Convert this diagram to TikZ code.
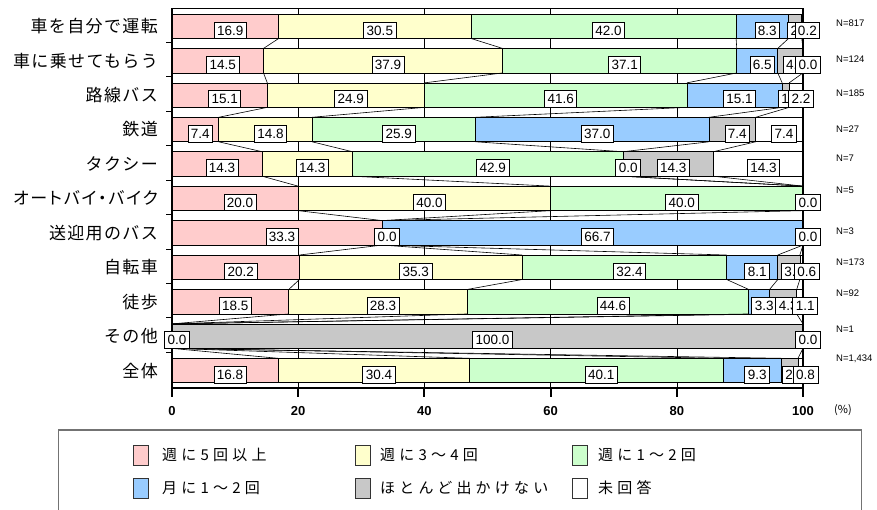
\documentclass[tikz,border=0pt]{standalone}
\usepackage{fontspec}
\setmainfont{Liberation Sans}
\newfontfamily\jp{Noto Sans CJK JP}
\newfontfamily\jpc[LetterSpace=8]{Noto Sans CJK JP}
\newfontfamily\jpp[LetterSpace=10,RawFeature=+palt]{Noto Sans CJK JP}
\newfontfamily\jpl[LetterSpace=28]{Noto Sans CJK JP}
\definecolor{col1}{HTML}{FFCCCC}
\definecolor{col2}{HTML}{FFFFCC}
\definecolor{col3}{HTML}{CCFFCC}
\definecolor{col4}{HTML}{99CCFF}
\definecolor{col5}{HTML}{C8C8C8}
\definecolor{col6}{HTML}{FFFFFF}
\def\zeroval{0}
\newcommand\allrows{%
 \onerow{0}{車を自分で運転}{N=817}{23}{16.9,30.5,42.0,8.3,2.1,0.2}%
 \onerow{1}{車に乗せてもらう}{N=124}{59}{14.5,37.9,37.1,6.5,4.0,0.0}%
 \onerow{2}{路線バス}{N=185}{93}{15.1,24.9,41.6,15.1,1.1,2.2}%
 \onerow{3}{鉄道}{N=27}{129}{7.4,14.8,25.9,37.0,7.4,7.4}%
 \onerow{4}{タクシー}{N=7}{158}{14.3,14.3,42.9,0.0,14.3,14.3}%
 \onerow{5}{{\jpp オートバイ・バイク}}{N=5}{190}{20.0,40.0,40.0,0,0,0.0}%
 \onerow{6}{送迎用のバス}{N=3}{231}{33.3,0.0,0,66.7,0,0.0}%
 \onerow{7}{自転車}{N=173}{262}{20.2,35.3,32.4,8.1,3.5,0.6}%
 \onerow{8}{徒歩}{N=92}{293}{18.5,28.3,44.6,3.3,4.3,1.1}%
 \onerow{9}{その他}{N=1}{329}{0.0,0,0,0,100.0,0.0}%
 \onerow{10}{全体}{N=1,434}{359}{16.8,30.4,40.1,9.3,2.6,0.8}%
}
% pass 1: bars, boundary coordinates, category and N labels
\newcommand\drawbars[5]{%
  \pgfmathsetmacro\rtop{8+34.43*#1+6}%
  \pgfmathsetmacro\rbot{8+34.43*#1+30.5}%
  \pgfmathsetmacro\rmid{8+34.43*#1+18.25}%
  \gdef\cum{0}%
  \foreach \v [count=\k] in {#5} {%
    \pgfmathsetmacro\segs{\cum}%
    \pgfmathsetmacro\sege{\cum+\v}%
    \xdef\cum{\sege}%
    \ifdim\v pt>0pt
      \draw[bar,fill=col\k] ({172+6.31*\segs},\rtop) rectangle ({172+6.31*\sege},\rbot);
    \fi
    \coordinate (t#1-\k) at ({172+6.31*\sege},\rtop);
    \coordinate (b#1-\k) at ({172+6.31*\sege},\rbot);
  }%
  \node[cat] (c#1) at (158,\rmid) {#2};
  \node[nlab] (n#1) at (836,#4) {#3};
}
% pass 2: data labels
\newcommand\drawlabels[5]{%
  \pgfmathsetmacro\rmid{8+34.43*#1+18.25}%
  \gdef\cum{0}%
  \foreach \v [count=\k] in {#5} {%
    \pgfmathsetmacro\segs{\cum}%
    \pgfmathsetmacro\sege{\cum+\v}%
    \xdef\cum{\sege}%
    \edef\tmpv{\v}%
    \ifx\tmpv\zeroval\else
      \node[lab] (L#1-\k) at ({172+6.31*(\segs+\sege)/2+5},{\rmid+4}) {\v};
    \fi
  }%
}
\begin{document}
\begin{tikzpicture}[x=1pt,y=-1pt,
  bar/.style={draw=black,line width=0.7pt},
  lab/.style={draw=black,fill=white,line width=0.7pt,font=\fontsize{13.5}{13.5}\selectfont,inner xsep=3pt,inner ysep=3.5pt,text height=9.7pt,text depth=0pt},
  cat/.style={anchor=east,inner sep=0pt,font=\jpc\fontsize{17}{17}\selectfont},
  nlab/.style={anchor=west,inner sep=0pt,font=\fontsize{9.5}{9.5}\selectfont},
  sline/.style={line width=0.6pt},
  gridl/.style={line width=0.6pt},
  ticklab/.style={font=\bfseries\fontsize{13}{13}\selectfont},
  sw/.style={draw=black!80,line width=0.8pt},
  leg/.style={anchor=west,inner sep=0pt,font=\jpl\fontsize{15}{15}\selectfont}
]
\useasboundingbox (0,0) rectangle (877,509);
\fill[white] (0,0) rectangle (877,509);
% grid
\foreach \g in {20,40,60,80} \draw[gridl] ({172+6.31*\g},8) -- ({172+6.31*\g},388);
\draw[line width=0.8pt] (172,8) -- (803,8);
% bars
\let\onerow\drawbars
\allrows
% series lines
\foreach \i in {0,...,9} {
  \pgfmathtruncatemacro\j{\i+1}
  \foreach \k in {1,...,5} {\draw[sline] (b\i-\k) -- (t\j-\k);}
}
% axes
\draw[line width=1.6pt] (803,8) -- (803,388);
\draw[line width=2pt] (172,8) -- (172,389);
\draw[line width=2.5pt] (171,388) -- (804,388);
\foreach \i in {1,...,10} \draw[line width=1pt] (166,{8+34.43*\i}) -- (172,{8+34.43*\i});
\foreach \t in {0,20,...,100} {
  \draw[line width=2pt] ({172+6.31*\t},388) -- ({172+6.31*\t},397);
  \node[ticklab] (tk\t) at ({172+6.31*\t},411) {\t};
}
\node[font=\jp\fontsize{11}{11}\selectfont] (pct) at (843,410) {(\%)};
% labels
\let\onerow\drawlabels
\allrows
% legend
\draw[draw=black!55,line width=1.2pt] (58.3,510) -- (58.3,430) -- (861.7,430) -- (861.7,510);
\draw[sw,fill=col1] (133,445) rectangle (148,465);
\draw[sw,fill=col2] (355,445) rectangle (370,465);
\draw[sw,fill=col3] (572,445) rectangle (587,465);
\draw[sw,fill=col4] (133,478) rectangle (148,498);
\draw[sw,fill=col5] (355,478) rectangle (370,498);
\draw[sw,fill=col6] (572,478) rectangle (587,498);
\node[leg] (lg1) at (162,455) {週に5回以上};
\node[leg] (lg2) at (380,455) {週に3～4回};
\node[leg] (lg3) at (598,455) {週に1～2回};
\node[leg] (lg4) at (162,488) {月に1～2回};
\node[leg] (lg5) at (380,488) {ほとんど出かけない};
\node[leg] (lg6) at (598,488) {未回答};
\end{tikzpicture}
\end{document}
